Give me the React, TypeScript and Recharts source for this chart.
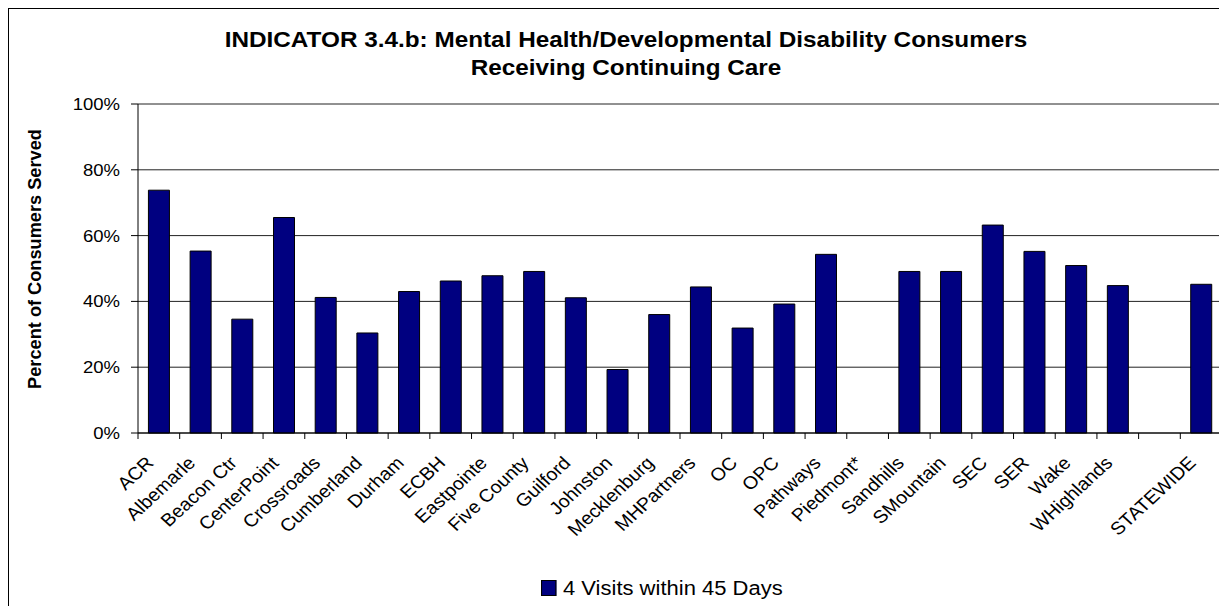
import React, { useEffect } from 'react';
import { BarChart, Bar, XAxis, YAxis, CartesianGrid } from 'recharts';

const categories = [
  'ACR', 'Albemarle', 'Beacon Ctr', 'CenterPoint', 'Crossroads', 'Cumberland',
  'Durham', 'ECBH', 'Eastpointe', 'Five County', 'Guilford', 'Johnston',
  'Mecklenburg', 'MHPartners', 'OC', 'OPC', 'Pathways', 'Piedmont*',
  'Sandhills', 'SMountain', 'SEC', 'SER', 'Wake', 'WHighlands', ' ', 'STATEWIDE',
];
const visitsWithin45Days = [
  73.8, 55.3, 34.6, 65.5, 41.2, 30.4, 43.0, 46.2, 47.8, 49.1, 41.1, 19.3,
  36.0, 44.4, 31.9, 39.2, 54.3, null, 49.1, 49.1, 63.2, 55.2, 50.9, 44.8, null, 45.2,
];
const yTicks = [0, 20, 40, 60, 80, 100];
const titleLines = [
  'INDICATOR 3.4.b: Mental Health/Developmental Disability Consumers',
  'Receiving Continuing Care',
];
const seriesName = '4 Visits within 45 Days';
const yLabel = 'Percent of Consumers Served';

const data = categories.map((name, i) => ({ name, value: visitsWithin45Days[i] }));

// layout (px, relative to chart origin)
const W = 1217;
const H = 596;
const PLOT_L = 129;
const PLOT_T = 95;
const PLOT_R = 1213;
const PLOT_B = 424;
const BAND = (PLOT_R - PLOT_L) / categories.length;
const FONT = 'Arial, "Liberation Sans", sans-serif';
const STRETCH = 1.09;
const NAVY = '#000080';

const XTick = (props: any) => {
  const { x, index, payload } = props;
  const left = x - BAND / 2;
  const last = index === categories.length - 1;
  return (
    <g>
      <line x1={left} x2={left} y1={PLOT_B} y2={PLOT_B + 6} stroke="#000" />
      {last && <line x1={x + BAND / 2} x2={x + BAND / 2} y1={PLOT_B} y2={PLOT_B + 6} stroke="#000" />}
      <text
        transform={`translate(${x - 14},${446}) scale(${STRETCH},1) rotate(-45)`}
        textAnchor="end"
        dy="0.716em"
        fontSize={18}
        fontFamily={FONT}
        fill="#000"
      >
        {payload.value}
      </text>
    </g>
  );
};

const YTick = (props: any) => {
  const { x, y, payload } = props;
  return (
    <text
      transform={`translate(${x},${y}) scale(${STRETCH},1)`}
      textAnchor="end"
      dy="0.355em"
      fontSize={17}
      fontFamily={FONT}
      fill="#000"
    >
      {`${payload.value}%`}
    </text>
  );
};

const YLabel = () => (
  <text
    x={31.5}
    y={250}
    transform="rotate(-90, 31.5, 250)"
    textAnchor="middle"
    fontSize={18.2}
    fontWeight="bold"
    fontFamily={FONT}
    fill="#000"
  >
    {yLabel}
  </text>
);

export default function App() {
  useEffect(() => {
    document.documentElement.style.overflow = 'hidden';
  }, []);

  return (
    <div
      style={{
        position: 'relative',
        width: 1218,
        height: 597,
        borderLeft: '1px solid #000',
        borderTop: '1px solid #000',
        fontFamily: FONT,
        background: '#fff',
      }}
    >
      <div
        style={{
          position: 'absolute',
          left: 0,
          top: 17.3,
          width: 1234,
          textAlign: 'center',
          fontSize: 22.3,
          lineHeight: '28px',
          fontWeight: 'bold',
          transform: `scaleX(${STRETCH})`,
          transformOrigin: '617px 0',
          whiteSpace: 'nowrap',
        }}
      >
        {titleLines.map((t) => (
          <div key={t}>{t}</div>
        ))}
      </div>

      <BarChart
        width={W}
        height={H}
        data={data}
        margin={{ top: PLOT_T, right: W - PLOT_R, left: 0, bottom: 0 }}
        barCategoryGap="25%"
      >
        <CartesianGrid vertical={false} stroke="#222" />
        <XAxis
          dataKey="name"
          interval={0}
          height={H - PLOT_B}
          tickLine={false}
          axisLine={{ stroke: '#000' }}
          tick={<XTick />}
        />
        <YAxis
          width={PLOT_L}
          domain={[0, 100]}
          ticks={yTicks}
          tickSize={7}
          tickMargin={11}
          tickLine={{ stroke: '#000' }}
          axisLine={{ stroke: '#000' }}
          tick={<YTick />}
          label={<YLabel />}
        />
        <YAxis
          yAxisId="frame"
          orientation="right"
          width={0}
          domain={[0, 100]}
          tick={false}
          tickLine={false}
          axisLine={{ stroke: '#808080' }}
        />
        <Bar dataKey="value" fill={NAVY} stroke="#000" strokeWidth={1} isAnimationActive={false} />
      </BarChart>

      <div
        style={{
          position: 'absolute',
          left: 531.7,
          top: 568,
          display: 'flex',
          alignItems: 'center',
          fontSize: 20,
          lineHeight: '22px',
          transform: 'scaleX(1.1)',
          transformOrigin: '0 0',
          whiteSpace: 'nowrap',
        }}
      >
        <span
          style={{
            display: 'inline-block',
            width: 12,
            height: 14,
            background: NAVY,
            border: '1px solid #000',
            marginRight: 6,
          }}
        />
        <span>{seriesName}</span>
      </div>
    </div>
  );
}
